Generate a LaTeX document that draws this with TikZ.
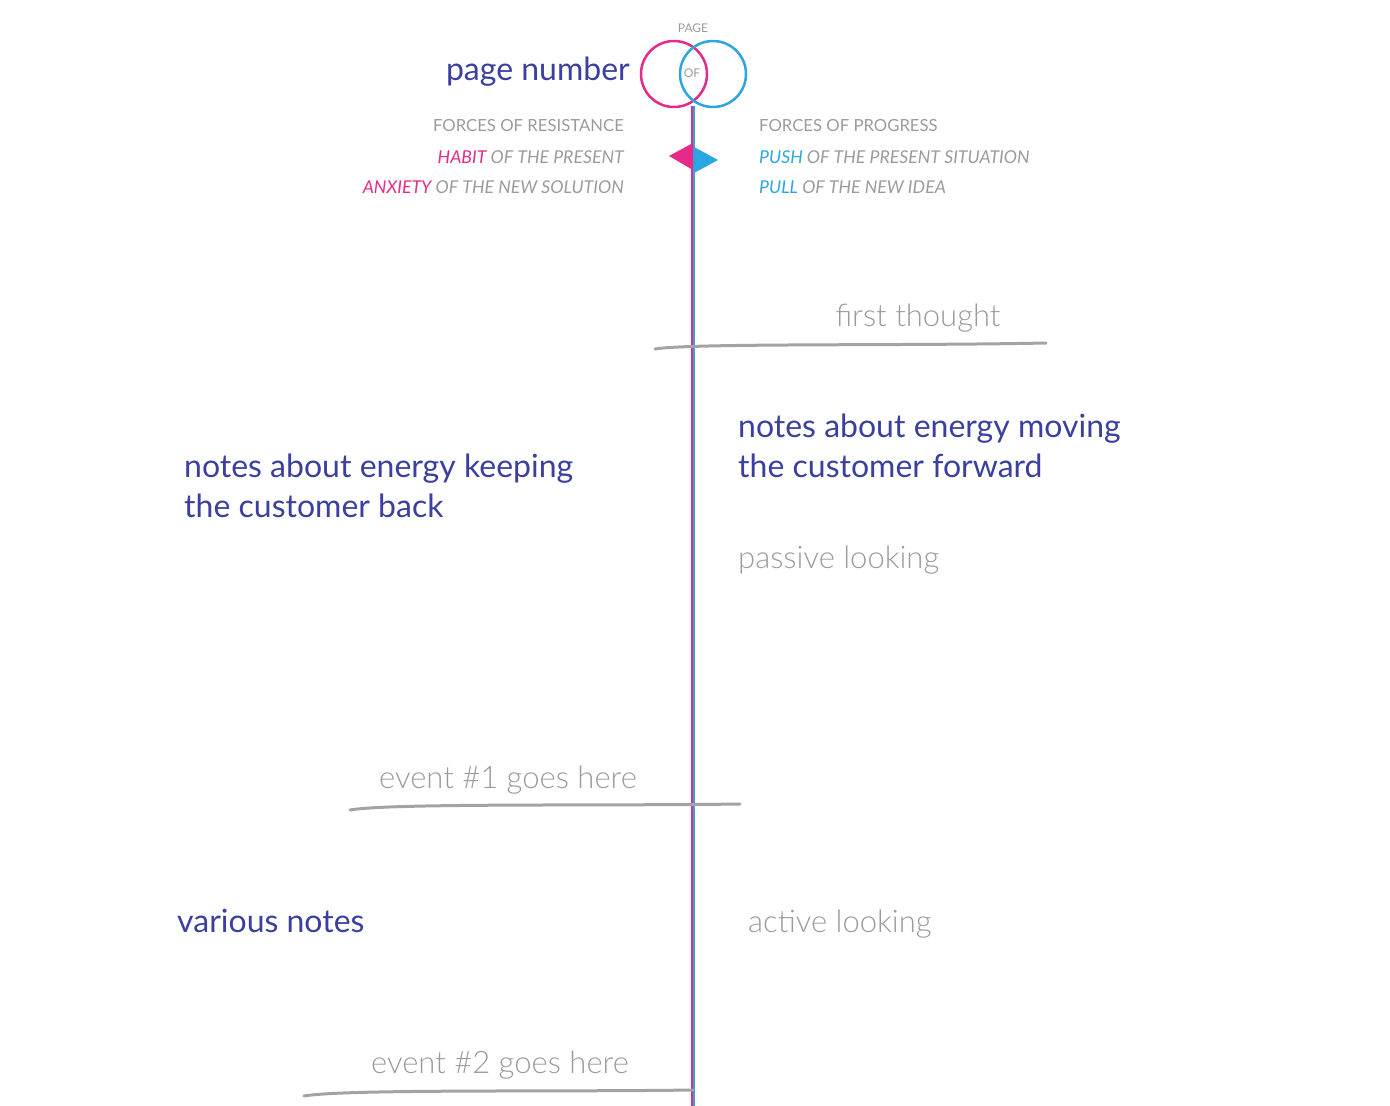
\documentclass[tikz,border=0pt]{standalone}
\usepackage{fontspec}
\setmainfont{Lato}
\newfontfamily\lightfont{Lato Light}
\definecolor{ink}{HTML}{3B3F9E}
\definecolor{pinkc}{HTML}{E62A8A}
\definecolor{bluec}{HTML}{2BA6E0}
\definecolor{grayt}{HTML}{9B9B9B}
\definecolor{grayl}{HTML}{A3A3A3}
\begin{document}
\begin{tikzpicture}[x=1pt,y=-1pt,
  big/.style={font=\fontsize{32}{40}\selectfont, text=ink, inner sep=0pt, align=left},
  biggray/.style={font=\lightfont\fontsize{31}{40}\selectfont, text=grayt, inner sep=0pt},
  small/.style={font=\fontsize{17.7}{18}\selectfont\itshape, text=grayt, inner sep=0pt},
  smallup/.style={font=\fontsize{16.7}{18}\selectfont, text=grayt, inner sep=0pt},
  tiny/.style={font=\fontsize{12}{12}\selectfont, text=grayt, inner sep=0pt},
  eventline/.style={draw=grayl, line width=3pt, line cap=round}]
\useasboundingbox (0,0) rectangle (1390,1106);
% circles
\draw[pinkc, line width=2.5pt] (674,74) circle (33);
\draw[bluec, line width=2.5pt] (713,74) circle (33);
\node[tiny] (pg) at (693,28) {PAGE};
\node[tiny] (of) at (692,73) {OF};
\node[big, anchor=east] (pn) at (630,72) {page number};
% timeline
\coordinate (top) at (693,106);
\coordinate (bot) at (693,1106);
\draw[pinkc, line width=2pt] ([xshift=-1pt]top) -- ([xshift=-1pt]bot);
\draw[bluec, line width=2pt] ([xshift=1pt]top) -- ([xshift=1pt]bot);
% triangles
\fill[pinkc] (693,143) -- (669,156) -- (693,170) -- cycle;
\fill[bluec] (694,147) -- (718,160) -- (694,173) -- cycle;
% forces
\node[smallup, anchor=east] (fr) at (624,126) {FORCES OF RESISTANCE};
\node[small, anchor=east] (hab) at (624,157) {\textcolor{pinkc}{HABIT} OF THE PRESENT};
\node[small, anchor=east] (anx) at (624,187) {\textcolor{pinkc}{ANXIETY} OF THE NEW SOLUTION};
\node[smallup, anchor=west] (fp) at (759,126) {FORCES OF PROGRESS};
\node[small, anchor=west] (push) at (759,157) {\textcolor{bluec}{PUSH} OF THE PRESENT SITUATION};
\node[small, anchor=west] (pull) at (759,187) {\textcolor{bluec}{PULL} OF THE NEW IDEA};
% first thought
\node[biggray] (ft) at (918,318) {first thought};
\coordinate (ftA) at (655,349);
\coordinate (ftB) at (1046,343);
\draw[eventline] (ftA) .. controls (690,343) and (900,346) .. (ftB);
% notes
\node[big, anchor=north west] (nr) at (738,414) {notes about energy moving\\the customer forward};
\node[big, anchor=north west] (nl) at (184,454) {notes about energy keeping\\the customer back};
\node[biggray, anchor=west] (pl) at (738,560) {passive looking};
% event 1
\node[biggray] (e1) at (508,780) {event \#1 goes here};
\coordinate (e1A) at (350,810);
\coordinate (e1B) at (740,804);
\draw[eventline] (e1A) .. controls (390,803) and (600,806) .. (e1B);
\node[big, anchor=west] (vn) at (177,921) {various notes};
\node[biggray, anchor=west] (al) at (748,924) {active looking};
% event 2
\node[biggray] (e2) at (500,1065) {event \#2 goes here};
\coordinate (e2A) at (304,1096);
\coordinate (e2B) at (693,1090);
\draw[eventline] (e2A) .. controls (344,1089) and (550,1092) .. (e2B);
\end{tikzpicture}
\end{document}
